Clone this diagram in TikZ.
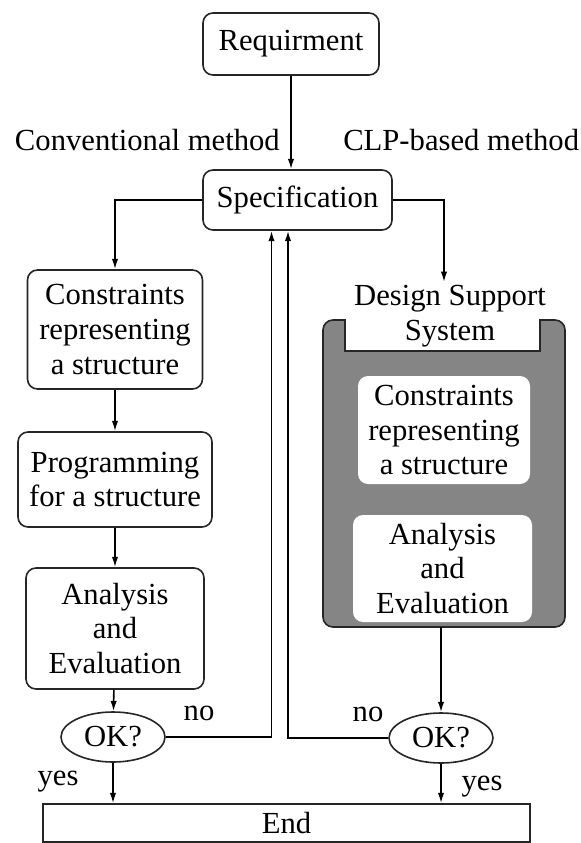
\documentclass[tikz,border=0pt]{standalone}
\usepackage{fontspec}
\setmainfont{Liberation Serif}
\usepackage{tikz}
\usetikzlibrary{arrows.meta,positioning,shapes.geometric,calc}

\definecolor{dssgray}{gray}{0.52}

\begin{document}
\begin{tikzpicture}[x=0.25mm,y=-0.25mm,
    font=\fontsize{21.8}{24.6}\selectfont,
    box/.style={draw=black!85,line width=0.4mm,rounded corners=2.5mm,align=center,inner sep=0pt},
    inbox/.style={fill=white,rounded corners=2.5mm,align=center,inner sep=0pt},
    okbox/.style={draw=black!85,line width=0.4mm,ellipse,inner sep=0pt,minimum width=26mm,minimum height=12.5mm},
    arr/.style={line width=0.4mm,-{Latex[length=2.6mm,width=1.6mm]}},
    lbl/.style={inner sep=0pt}]
      \useasboundingbox (0,0) rectangle (581,843);
      % top
      \node[box,minimum width=44mm,minimum height=15.5mm] (req) at (291,44) {Requirment};
      \node[box,minimum width=47.25mm,minimum height=15mm] (spec) at (297.5,200) {Specification};
      \node[lbl,anchor=base east] (conv) at (280,150) {Conventional method};
      \node[lbl,anchor=base west] (clp) at (343,150) {CLP-based method};
      % conventional method
      \node[box,minimum width=43.75mm,minimum height=29.75mm] (con_l) at (115,329.5) {Constraints\\representing\\a structure};
      \node[box,minimum width=48.5mm,minimum height=23.75mm] (prog_l) at (115,479.5) {Programming\\for a structure};
      \node[box,minimum width=44.5mm,minimum height=30.25mm] (ana_l) at (115,628.5) {Analysis\\and\\Evaluation};
      \node[okbox] (ok_l) at (113,737) {OK?};
      % CLP-based method
      \draw[draw=black!85,line width=0.4mm,fill=dssgray] (345,320) -- (345,351) -- (540,351) -- (540,320)
        [rounded corners=2.5mm] -- (565,320) -- (565,627) -- (323,627) -- (323,320) [sharp corners] -- cycle;
      \node[lbl,align=center] (dss) at (450,316) {Design Support\\System};
      \node[inbox,minimum width=43mm,minimum height=27mm] (con_r) at (444,430) {Constraints\\representing\\a structure};
      \node[inbox,minimum width=44.75mm,minimum height=26.75mm] (ana_r) at (442.5,568.5) {Analysis\\and\\Evaluation};
      \coordinate (dss_in) at (444,282);
      \coordinate (dss_out) at (441,627);
      \node[okbox] (ok_r) at (441,738) {OK?};
      % end
      \node[draw=black!85,line width=0.4mm,minimum width=121.75mm,minimum height=9.5mm,inner sep=0pt] (finish) at (286.5,823) {End};
      \node[lbl] (no_l) at (199,713) {no};
      \node[lbl] (no_r) at (368,714) {no};
      \node[lbl] (yes_l) at (58,782) {yes};
      \node[lbl] (yes_r) at (482,787) {yes};
      % connectors
      \draw[arr] (req.south) -- (req.south |- spec.north);
      \draw[arr] (spec.west) -| (con_l.north);
      \draw[arr] (spec.east) -| (dss_in);
      \draw[arr] (con_l) -- (prog_l);
      \draw[arr] (prog_l) -- (ana_l);
      \draw[arr] (ana_l) -- (ok_l);
      \draw[arr] (dss_out) -- (ok_r);
      \draw[arr] (ok_l.east) -| ($(spec.south)+(-26,0)$);
      \draw[arr] (ok_r.west) -| ($(spec.south)+(-9.5,0)$);
      \draw[arr] (ok_l.south) -- (ok_l.south |- finish.north);
      \draw[arr] (ok_r.south) -- (ok_r.south |- finish.north);
    \end{tikzpicture}
\end{document}
